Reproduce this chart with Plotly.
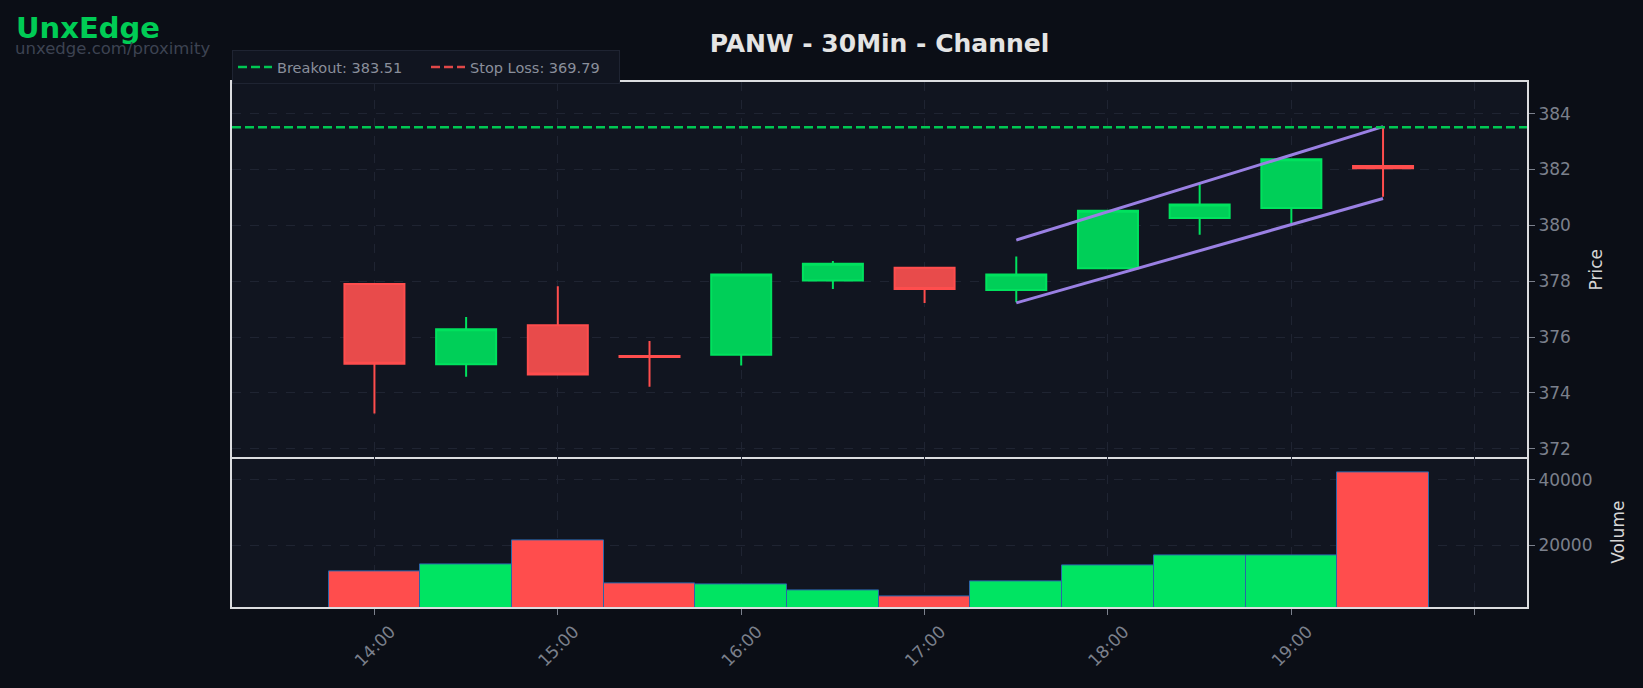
import plotly.graph_objects as go
from plotly.subplots import make_subplots

# ---------------- data ----------------
times = ["2024-01-02 14:00", "2024-01-02 14:30", "2024-01-02 15:00", "2024-01-02 15:30",
         "2024-01-02 16:00", "2024-01-02 16:30", "2024-01-02 17:00", "2024-01-02 17:30",
         "2024-01-02 18:00", "2024-01-02 18:30", "2024-01-02 19:00", "2024-01-02 19:30"]
opens  = [377.90, 375.02, 376.42, 375.32, 375.36, 378.02, 378.48, 377.68, 378.46, 380.26, 380.62, 382.12]
highs  = [377.90, 376.72, 377.82, 375.86, 378.24, 378.72, 378.48, 378.88, 380.52, 381.50, 382.36, 383.55]
lows   = [373.26, 374.58, 374.66, 374.22, 374.98, 377.72, 377.22, 377.24, 378.46, 379.66, 380.06, 381.02]
closes = [375.04, 376.28, 374.66, 375.28, 378.24, 378.62, 377.72, 378.24, 380.52, 380.74, 382.36, 382.04]
volumes = [12100, 14000, 21600, 8250, 7950, 6200, 4300, 8850, 13700, 16800, 16800, 42300]

breakout = 383.51
stop_loss = 369.79

channel_x = ["2024-01-02 17:30", "2024-01-02 19:30"]
channel_upper = [379.47, 383.53]
channel_lower = [377.22, 380.96]

x_range = ["2024-01-02 13:13:24", "2024-01-02 20:17:06"]
x_tickvals = ["2024-01-02 14:00", "2024-01-02 15:00", "2024-01-02 16:00",
              "2024-01-02 17:00", "2024-01-02 18:00", "2024-01-02 19:00", "2024-01-02 20:00"]
x_ticktext = ["14:00", "15:00", "16:00", "17:00", "18:00", "19:00", ""]
price_range = [371.69, 385.13]
price_ticks = [372, 374, 376, 378, 380, 382, 384]
volume_range = [1100, 46800]
volume_ticks = [20000, 40000]

# ---------------- style ----------------
PAPER = "#0b0e16"
PLOT = "#111520"
GRID = "#1f2432"
FRAME = "#dcdde0"
TICK = "#7b808c"
GREEN_LINE = "#00e25e"
GREEN_FILL = "#00cf58"
RED_LINE = "#ff4d4d"
RED_FILL = "#e84b4b"
VOL_GREEN = "#00e462"
VOL_RED = "#ff4d4d"
CHANNEL = "#9a80e3"
FONT = "DejaVu Sans"

fig = make_subplots(rows=2, cols=1, shared_xaxes=True, vertical_spacing=0,
                    row_heights=[0.715, 0.285])

fig.add_trace(go.Candlestick(
    x=times, open=opens, high=highs, low=lows, close=closes,
    increasing=dict(line=dict(color=GREEN_LINE, width=2), fillcolor=GREEN_FILL),
    decreasing=dict(line=dict(color=RED_LINE, width=2), fillcolor=RED_FILL),
    showlegend=False, name="PANW"), row=1, col=1)

fig.add_trace(go.Scatter(x=channel_x, y=channel_upper, mode="lines",
                         line=dict(color=CHANNEL, width=3), showlegend=False), row=1, col=1)
fig.add_trace(go.Scatter(x=channel_x, y=channel_lower, mode="lines",
                         line=dict(color=CHANNEL, width=3), showlegend=False), row=1, col=1)

fig.add_trace(go.Scatter(x=x_range, y=[breakout, breakout], mode="lines",
                         line=dict(color="#00c853", width=2.5, dash="9px,4px"),
                         name=f"Breakout: {breakout:.2f}"), row=1, col=1)
fig.add_trace(go.Scatter(x=x_range, y=[stop_loss, stop_loss], mode="lines",
                         line=dict(color="#e04848", width=2.5, dash="9px,4px"),
                         name=f"Stop Loss: {stop_loss:.2f}"), row=1, col=1)

vol_colors = [VOL_GREEN if c >= o else VOL_RED for o, c in zip(opens, closes)]
fig.add_trace(go.Bar(x=times, y=volumes, width=30 * 60 * 1000,
                     marker=dict(color=vol_colors, line=dict(color="#2a66a8", width=1)),
                     showlegend=False), row=2, col=1)

axis_common = dict(showline=True, linecolor=FRAME, linewidth=2, mirror=True,
                   showgrid=True, gridcolor=GRID, griddash="dash", gridwidth=1,
                   zeroline=False, ticks="outside", tickcolor=TICK, ticklen=6,
                   tickfont=dict(color=TICK, size=17, family=FONT))

fig.update_xaxes(**axis_common, type="date", range=x_range,
                 tickvals=x_tickvals, ticktext=x_ticktext, rangeslider_visible=False)
fig.update_xaxes(showticklabels=False, ticks="", row=1, col=1)
fig.update_xaxes(tickangle=-45, mirror=False, ticklabelshift=16, row=2, col=1)

fig.update_yaxes(**axis_common, side="right")
fig.update_yaxes(range=price_range, tickvals=price_ticks, row=1, col=1,
                 title=dict(text="Price", font=dict(color="#d6d6d6", size=17, family=FONT), standoff=20))
fig.update_yaxes(range=volume_range, tickvals=volume_ticks, tickformat="d", row=2, col=1,
                 title=dict(text="Volume", font=dict(color="#d6d6d6", size=17, family=FONT), standoff=21))

fig.update_layout(
    width=1643, height=688,
    paper_bgcolor=PAPER, plot_bgcolor=PLOT,
    font=dict(family=FONT, color=TICK),
    margin=dict(l=232, r=116, t=82, b=81),
    title=dict(text="<b>PANW - 30Min - Channel</b>", x=0.5, xref="paper", xanchor="center",
               y=1 - 43 / 688, yanchor="middle",
               font=dict(size=25, color="#e4e4e4", family=FONT)),
    legend=dict(orientation="h", x=0, xanchor="left", y=1.061, yanchor="top",
                bgcolor="#111520", bordercolor="#1f2432", borderwidth=1,
                itemwidth=34, entrywidth=144, entrywidthmode="pixels",
                font=dict(size=14.5, color="#8a8f9b", family=FONT)),
    bargap=0,
    boxgap=0.3, boxgroupgap=0.065,
    showlegend=True,
)

fig.add_annotation(text="<b>UnxEdge</b>", xref="paper", yref="paper",
                   x=-0.1685, y=1.1023, xanchor="left", yanchor="middle", showarrow=False,
                   font=dict(size=29, color="#00cc55", family=FONT))
fig.add_annotation(text="unxedge.com/proximity", xref="paper", yref="paper",
                   x=-0.1693, y=1.064, xanchor="left", yanchor="middle", showarrow=False,
                   font=dict(size=16.5, color="#3d4352", family=FONT))

fig.write_html("out.html", config={"displayModeBar": False},
               post_script="document.body.style.margin='0';document.body.style.background='#0b0e16';")
